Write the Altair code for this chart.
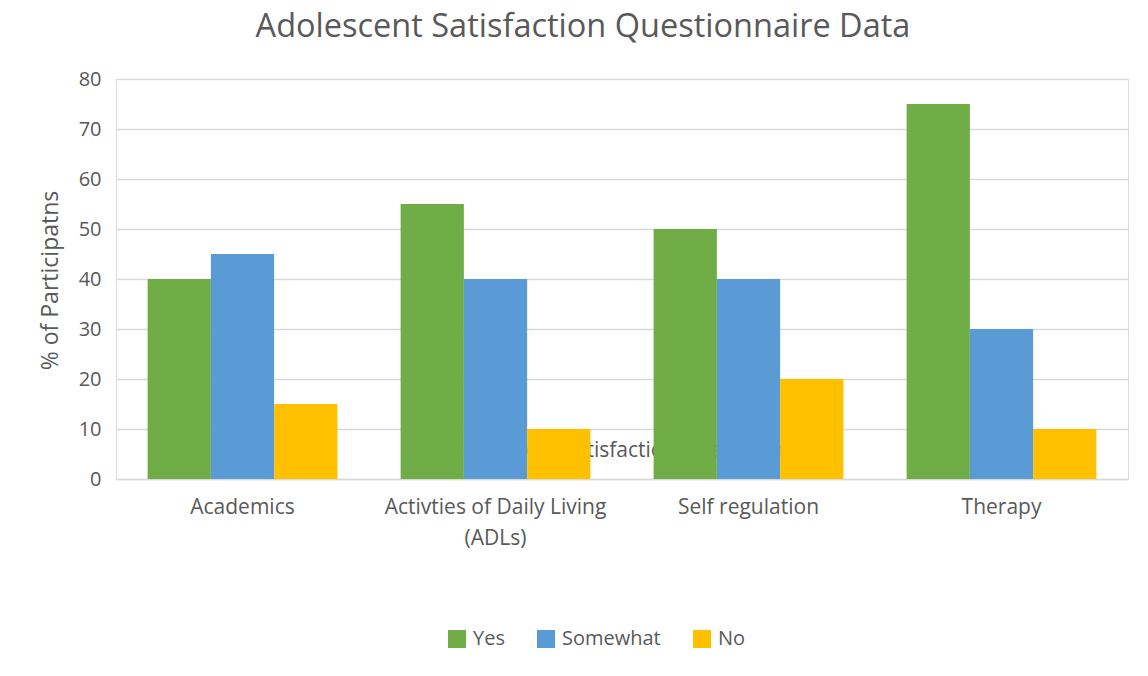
import altair as alt
import pandas as pd

categories = ["Academics", "Activties of Daily Living (ADLs)", "Self regulation", "Therapy"]
responses = ["Yes", "Somewhat", "No"]
yes_vals = [40, 55, 50, 75]
somewhat_vals = [45, 40, 40, 30]
no_vals = [15, 10, 20, 10]
colors = ["#70AD47", "#5B9BD5", "#FFC000"]

rows = []
for i, c in enumerate(categories):
    for r, vals in zip(responses, [yes_vals, somewhat_vals, no_vals]):
        rows.append({"area": c, "response": r, "value": vals[i]})
df = pd.DataFrame(rows)

FONT = "Open Sans"
GRAY = "#595959"

chart = alt.Chart(df).mark_bar().encode(
    x=alt.X("area:N", sort=categories,
            scale=alt.Scale(paddingInner=0.25, paddingOuter=0.125),
            axis=alt.Axis(
                title="Adolescent Satisfaction Questionnaire",
                titleFontSize=21, titleFontWeight="normal", titleColor=GRAY,
                titleFont=FONT, titleY=-23, titleBaseline="alphabetic",
                titleX=519,
                labelAngle=0, labelFontSize=21, labelColor=GRAY, labelFont=FONT,
                labelPadding=17, labelLineHeight=31, labelLimit=400,
                labelExpr="datum.label == 'Activties of Daily Living (ADLs)' ? ['Activties of Daily Living', '(ADLs)'] : datum.label",
                ticks=False, domain=True, domainColor="#d9d9d9", domainWidth=1.5,
                grid=False, zindex=0)),
    xOffset=alt.XOffset("response:N", sort=responses, scale=alt.Scale(paddingInner=0, paddingOuter=0)),
    y=alt.Y("value:Q", scale=alt.Scale(domain=[0, 80]),
            axis=alt.Axis(
                title="% of Participatns", values=list(range(0, 81, 10)),
                titleFontSize=23, titleFontWeight="normal", titleColor=GRAY, titleFont=FONT,
                titleX=-66, titleY=201, titleAlign="center", titleAngle=-90, titleBaseline="middle",
                labelFontSize=20, labelColor=GRAY, labelFont=FONT, labelPadding=15,
                ticks=False, domain=False, gridColor="#d9d9d9", gridWidth=1.3)),
    color=alt.Color("response:N", sort=responses,
                    scale=alt.Scale(domain=responses, range=colors),
                    legend=alt.Legend(title=None, orient="none", direction="horizontal",
                                      legendX=331, legendY=550, symbolType="square",
                                      symbolSize=324, symbolStrokeWidth=0,
                                      labelFontSize=20, labelColor=GRAY, labelFont=FONT,
                                      columnPadding=31, labelOffset=6)),
).properties(
    width=1012, height=400,
    title=alt.TitleParams("Adolescent Satisfaction Questionnaire Data", fontSize=32.5,
                          font=FONT, fontWeight="normal", color=GRAY, anchor="middle",
                          offset=26, dx=-39),
    autosize=alt.AutoSizeParams(type="none"),
    padding={"left": 116, "top": 79, "right": 20, "bottom": 197},
).configure_view(stroke=None).configure(background="white")

chart.save("out.html", embed_options={"renderer": "svg", "actions": False})
